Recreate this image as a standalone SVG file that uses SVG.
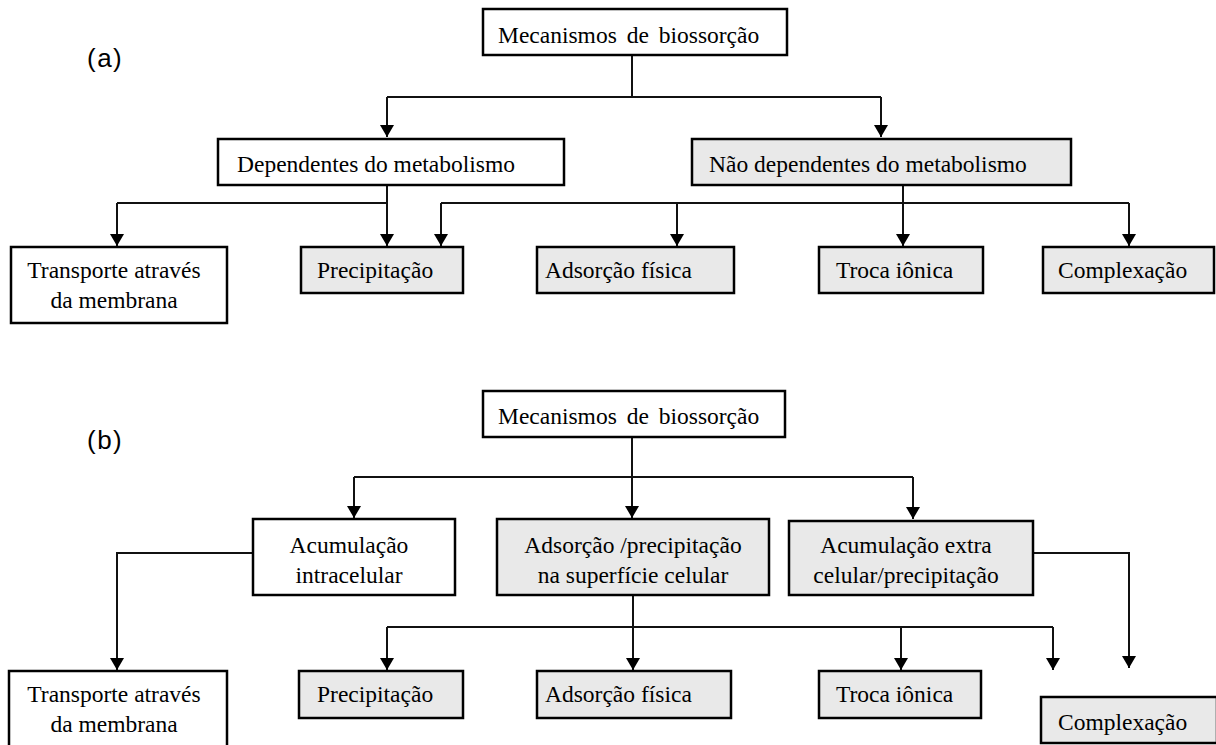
<svg xmlns="http://www.w3.org/2000/svg" width="1216" height="745" viewBox="0 0 1216 745">
  <defs>
    <marker id="arr" viewBox="0 0 12 14" refX="12" refY="7" markerWidth="12" markerHeight="14" markerUnits="userSpaceOnUse" orient="auto">
      <path d="M0,0 L12,7 L0,14 Z" fill="#000"/>
    </marker>
    <style>
      .box { fill: #ffffff; stroke: #000; stroke-width: 2.5; }
      .gray { fill: #e9e9e9; stroke: #000; stroke-width: 2.5; }
      .t { font-family: "Liberation Serif", "Times New Roman", serif; font-size: 23.5px; fill: #000; }
      .root { word-spacing: 4px; }
      .lbl { font-family: "Liberation Sans", Arial, sans-serif; font-size: 26px; letter-spacing: 1.5px; fill: #000; }
      .c { fill: none; stroke: #111; stroke-width: 2; }
      .a { fill: none; stroke: #111; stroke-width: 2; marker-end: url(#arr); }
    </style>
  </defs>
  <rect width="1216" height="745" fill="#fff"/>

  <text class="lbl" x="87" y="67">(a)</text>
  <text class="lbl" x="87" y="449">(b)</text>

  <g id="connectors">
    <!-- (a) -->
    <path class="c" d="M632,55 V97 M387,97 H881"/>
    <path class="a" d="M387,97 V137"/>
    <path class="a" d="M881,97 V137"/>
    <path class="c" d="M117,203 H387"/>
    <path class="a" d="M387,185 V246"/>
    <path class="a" d="M117,203 V246"/>
    <path class="c" d="M441,203 H1129"/>
    <path class="a" d="M903,185 V246"/>
    <path class="a" d="M441,203 V246"/>
    <path class="a" d="M677,203 V246"/>
    <path class="a" d="M1129,203 V246"/>
    <!-- (b) -->
    <path class="c" d="M354,477 H913"/>
    <path class="a" d="M632,437 V518"/>
    <path class="a" d="M354,477 V518"/>
    <path class="a" d="M913,477 V519"/>
    <path class="a" d="M253,553 H117 V670"/>
    <path class="c" d="M387,627 H1053"/>
    <path class="a" d="M633,595 V670"/>
    <path class="a" d="M387,627 V670"/>
    <path class="a" d="M901,627 V670"/>
    <path class="a" d="M1053,627 V670"/>
    <path class="a" d="M1033,553 H1129 V668"/>
  </g>

  <!-- (a) nodes -->
  <g id="a-root">
    <rect class="box" x="483" y="9" width="304" height="46"/>
    <text class="t root" x="498" y="43">Mecanismos de biossorção</text>
  </g>
  <g id="a-dep">
    <rect class="box" x="218" y="139" width="346" height="46"/>
    <text class="t" x="237" y="172">Dependentes do metabolismo</text>
  </g>
  <g id="a-nao">
    <rect class="gray" x="692" y="139" width="379" height="46"/>
    <text class="t" x="709" y="172">Não dependentes do metabolismo</text>
  </g>
  <g id="a-transporte">
    <rect class="box" x="11" y="247" width="216" height="76"/>
    <text class="t" x="114" y="278" text-anchor="middle">Transporte através</text>
    <text class="t" x="114" y="308" text-anchor="middle">da membrana</text>
  </g>
  <g id="a-precip">
    <rect class="gray" x="301" y="247" width="162" height="46"/>
    <text class="t" x="317" y="278">Precipitação</text>
  </g>
  <g id="a-adsorcao">
    <rect class="gray" x="537" y="247" width="197" height="46"/>
    <text class="t" x="545" y="278">Adsorção  física</text>
  </g>
  <g id="a-troca">
    <rect class="gray" x="819" y="247" width="164" height="46"/>
    <text class="t" x="836" y="278">Troca iônica</text>
  </g>
  <g id="a-complex">
    <rect class="gray" x="1043" y="247" width="171" height="46"/>
    <text class="t" x="1058" y="278">Complexação</text>
  </g>

  <!-- (b) nodes -->
  <g id="b-root">
    <rect class="box" x="483" y="391" width="302" height="46"/>
    <text class="t root" x="498" y="424">Mecanismos de biossorção</text>
  </g>
  <g id="b-intra">
    <rect class="box" x="253" y="519" width="202" height="76"/>
    <text class="t" x="349" y="553" text-anchor="middle">Acumulação</text>
    <text class="t" x="349" y="583" text-anchor="middle">intracelular</text>
  </g>
  <g id="b-superficie">
    <rect class="gray" x="497" y="519" width="272" height="76"/>
    <text class="t" x="633" y="553" text-anchor="middle">Adsorção /precipitação</text>
    <text class="t" x="633" y="583" text-anchor="middle">na superfície celular</text>
  </g>
  <g id="b-extra">
    <rect class="gray" x="789" y="521" width="244" height="74"/>
    <text class="t" x="906" y="553" text-anchor="middle">Acumulação extra</text>
    <text class="t" x="906" y="583" text-anchor="middle">celular/precipitação</text>
  </g>
  <g id="b-transporte">
    <rect class="box" x="9" y="671" width="218" height="80"/>
    <text class="t" x="114" y="702" text-anchor="middle">Transporte através</text>
    <text class="t" x="114" y="732" text-anchor="middle">da membrana</text>
  </g>
  <g id="b-precip">
    <rect class="gray" x="299" y="671" width="164" height="47"/>
    <text class="t" x="317" y="702">Precipitação</text>
  </g>
  <g id="b-adsorcao">
    <rect class="gray" x="537" y="671" width="194" height="47"/>
    <text class="t" x="545" y="702">Adsorção  física</text>
  </g>
  <g id="b-troca">
    <rect class="gray" x="819" y="671" width="162" height="47"/>
    <text class="t" x="836" y="702">Troca iônica</text>
  </g>
  <g id="b-complex">
    <rect class="gray" x="1041" y="697" width="176" height="46"/>
    <text class="t" x="1058" y="730">Complexação</text>
  </g>
</svg>
